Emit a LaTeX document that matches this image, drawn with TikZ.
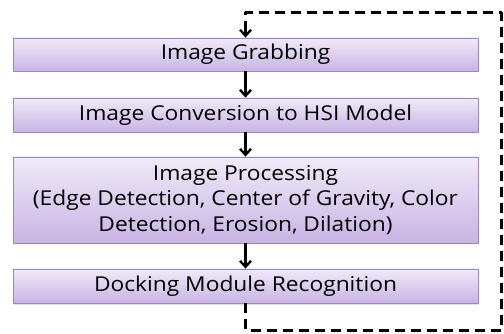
\documentclass[tikz,border=0pt]{standalone}
\usepackage{fontspec}
\setmainfont{Open Sans}[FakeStretch=1.11]
\usetikzlibrary{arrows.meta,shadows}

\definecolor{boxtop}{HTML}{F0EAF8}
\definecolor{boxbot}{HTML}{C8B4E4}
\definecolor{boxline}{HTML}{9C86BE}

\tikzset{
    stepbox/.style={draw=boxline, line width=0.8pt, top color=boxtop, bottom color=boxbot,
        minimum width=465pt, inner sep=0pt, align=center,
        drop shadow={shadow xshift=1pt, shadow yshift=-1.5pt, opacity=0.25}},
    flow/.style={-{Straight Barb[length=6pt,width=11pt]}, line width=2.4pt},
    backloop/.style={line width=3pt, dash pattern=on 10pt off 6pt}
}

\begin{document}
\begin{tikzpicture}[x=1pt, y=-1pt, font=\fontsize{20.5}{25.5}\selectfont, line join=round]
    \useasboundingbox (0,0) rectangle (504,334);

    \node[stepbox, minimum height=33pt] (grab) at (245.5,54.5) {Image Grabbing};
    \node[stepbox, minimum height=34pt] (conv) at (245.5,115) {Image Conversion to HSI Model};
    \node[stepbox, minimum height=86pt] (proc) at (245.5,200)
        {Image Processing\\(Edge Detection, Center of Gravity, Color\\Detection, Erosion, Dilation)};
    \node[stepbox, minimum height=34pt] (dock) at (245.5,286) {Docking Module Recognition};

    \path
    (245.5,330) coordinate (L1)
    (501.5,330) coordinate (L2)
    (501.5,13) coordinate (L3)
    (245.5,13) coordinate (L4)
    (245.5,22) coordinate (L5)
    ;

    \draw[flow] (grab) -- (conv);
    \draw[flow] (conv) -- (proc);
    \draw[flow] (proc) -- (dock);

    % feedback loop
    \draw[backloop] (dock.south) -- (L1) -- (L2) -- (L3) -- (L4) -- (L5);
    \draw[flow] (L5) -- (grab.north);
\end{tikzpicture}
\end{document}
